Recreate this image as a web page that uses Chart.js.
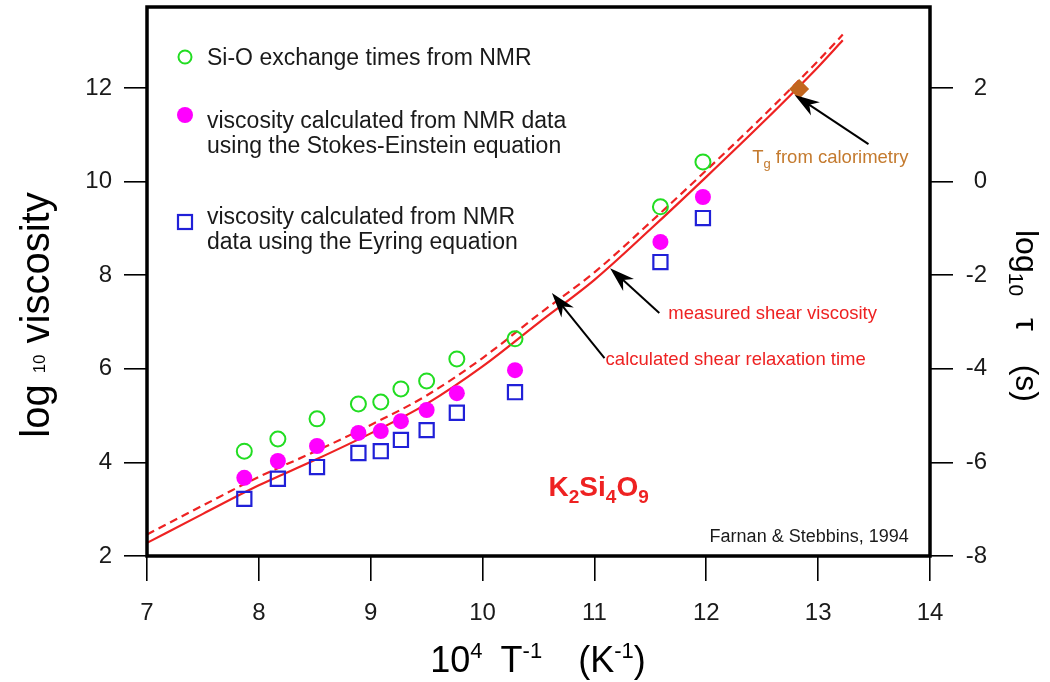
<!DOCTYPE html>
<html>
<head>
<meta charset="utf-8">
<script src="https://cdn.jsdelivr.net/npm/chart.js@4.4.1/dist/chart.umd.min.js"></script>
<style>
html, body { margin: 0; padding: 0; background: #fff; }
</style>
</head>
<body>
<canvas id="chart" width="1050" height="682"></canvas>
<script>
// NMR derived points (x = 10^4/T)
const invT = [7.87, 8.17, 8.52, 8.89, 9.09, 9.27, 9.50, 9.77, 10.29, 11.59, 11.97];
const exchangeTimes = [4.24, 4.50, 4.93, 5.25, 5.29, 5.57, 5.74, 6.21, 6.64, 9.46, 10.42];
const stokesEinstein = [3.67, 4.03, 4.35, 4.63, 4.67, 4.88, 5.12, 5.48, 5.97, 8.71, 9.67];
const eyring = [3.22, 3.65, 3.90, 4.20, 4.24, 4.48, 4.69, 5.06, 5.50, 8.28, 9.22];

// glass transition from calorimetry
const tgX = [12.83];
const tgY = [11.98];

// curves
const curveX = [7.0, 7.5, 8.0, 8.5, 9.0, 9.5, 10.0, 10.5, 11.0, 11.5, 12.0, 12.5, 13.0, 13.22];
const shearViscosity = [2.28, 2.90, 3.51, 4.05, 4.62, 5.25, 6.05, 6.98, 7.90, 8.98, 10.10, 11.25, 12.45, 13.02];
const relaxationTime = [2.46, 3.08, 3.69, 4.23, 4.80, 5.43, 6.23, 7.16, 8.06, 9.13, 10.24, 11.38, 12.58, 13.14];

const xTicks = [7, 8, 9, 10, 11, 12, 13, 14];
const leftTicks = [2, 4, 6, 8, 10, 12];
const rightTicks = [-8, -6, -4, -2, 0, 2];

const FAMILY = "'Liberation Sans', Arial, sans-serif";
const RED = '#ee2222';

function pts(xs, ys) {
    return xs.map((v, i) => ({ x: v, y: ys[i] }));
}

function fontOf(size, bold) {
    return (bold ? 'bold ' : '') + size + 'px ' + FAMILY;
}

// parts: [text, size, baselineShift, bold] or a number = gap in px
function richText(ctx, parts, x, y, align) {
    let total = 0;
    const widths = parts.map(p => {
        if (typeof p === 'number') return p;
        ctx.font = fontOf(p[1], p[3]);
        return ctx.measureText(p[0]).width;
    });
    widths.forEach(w => total += w);
    let cx = align === 'center' ? x - total / 2 : align === 'right' ? x - total : x;
    ctx.textAlign = 'left';
    ctx.textBaseline = 'alphabetic';
    parts.forEach((p, i) => {
        if (typeof p !== 'number') {
            ctx.font = fontOf(p[1], p[3]);
            ctx.fillText(p[0], cx, y + (p[2] || 0));
        }
        cx += widths[i];
    });
}

function arrow(ctx, x1, y1, x2, y2) {
    const ang = Math.atan2(y2 - y1, x2 - x1);
    const len = 25, half = 8;
    ctx.beginPath();
    ctx.moveTo(x1, y1);
    ctx.lineTo(x2 - Math.cos(ang) * len * 0.6, y2 - Math.sin(ang) * len * 0.6);
    ctx.stroke();
    ctx.save();
    ctx.translate(x2, y2);
    ctx.rotate(ang);
    ctx.beginPath();
    ctx.moveTo(0, 0);
    ctx.lineTo(-len, -half);
    ctx.lineTo(-len * 0.7, 0);
    ctx.lineTo(-len, half);
    ctx.closePath();
    ctx.fill();
    ctx.restore();
}

const overlay = {
    id: 'overlay',
    afterDraw(chart) {
        const { ctx, chartArea: a } = chart;
        const x = chart.scales.x, y = chart.scales.y, y2 = chart.scales.y2;
        const px = v => x.getPixelForValue(v);
        const py = v => y.getPixelForValue(v);
        ctx.save();

        // frame
        ctx.strokeStyle = '#000';
        ctx.lineWidth = 3.5;
        ctx.strokeRect(a.left, a.top, a.right - a.left, a.bottom - a.top);

        // right axis tick labels, right aligned
        ctx.fillStyle = '#1a1a1a';
        ctx.font = fontOf(24);
        ctx.textAlign = 'right';
        ctx.textBaseline = 'middle';
        rightTicks.forEach(v => ctx.fillText(String(v), a.right + 57, y2.getPixelForValue(v)));

        // legend block
        const mx = a.left + 38, tx = a.left + 60;
        ctx.lineWidth = 2;
        ctx.strokeStyle = '#22dd22';
        ctx.beginPath();
        ctx.arc(mx, a.top + 50, 6.5, 0, Math.PI * 2);
        ctx.stroke();
        ctx.fillStyle = '#ff00ff';
        ctx.beginPath();
        ctx.arc(mx, a.top + 108, 8, 0, Math.PI * 2);
        ctx.fill();
        ctx.strokeStyle = '#2020d8';
        ctx.lineWidth = 2.2;
        ctx.strokeRect(mx - 7, a.top + 208, 14, 14);

        ctx.fillStyle = '#1a1a1a';
        richText(ctx, [['Si-O exchange times from NMR', 23]], tx, a.top + 58, 'left');
        richText(ctx, [['viscosity calculated from NMR data', 23]], tx, a.top + 121, 'left');
        richText(ctx, [['using the Stokes-Einstein equation', 23]], tx, a.top + 146, 'left');
        richText(ctx, [['viscosity calculated from NMR', 23]], tx, a.top + 217, 'left');
        richText(ctx, [['data using the Eyring equation', 23]], tx, a.top + 242, 'left');

        // arrows
        ctx.strokeStyle = '#000';
        ctx.fillStyle = '#000';
        ctx.lineWidth = 2;
        arrow(ctx, px(13.45), py(10.80), px(12.79), py(11.85));
        arrow(ctx, px(11.58), py(7.19), px(11.14), py(8.15));
        arrow(ctx, px(11.09), py(6.23), px(10.62), py(7.62));

        // annotations
        ctx.fillStyle = '#c47a2e';
        richText(ctx, [['T', 18.5], ['g', 13, 5], [' from calorimetry', 18.5]], px(12.41), 163, 'left');
        ctx.fillStyle = RED;
        richText(ctx, [['measured shear viscosity', 18.5]], px(11.66), 319, 'left');
        richText(ctx, [['calculated shear relaxation time', 18.5]], px(11.10), 365, 'left');
        richText(ctx, [['K', 28, 0, true], ['2', 19, 7, true], ['Si', 28, 0, true], ['4', 19, 7, true],
                       ['O', 28, 0, true], ['9', 19, 7, true]], px(10.59), 496, 'left');
        ctx.fillStyle = '#1a1a1a';
        richText(ctx, [['Farnan & Stebbins, 1994', 18]], px(13.81), 542, 'right');

        // axis titles
        ctx.fillStyle = '#000';
        richText(ctx, [['10', 36], ['4', 22, -14], 18, ['T', 36], ['-1', 22, -14], 36,
                       ['(K', 36], ['-1', 22, -14], [')', 36]], 538, 672, 'center');

        ctx.save();
        ctx.translate(49, 315);
        ctx.rotate(-Math.PI / 2);
        richText(ctx, [['log', 40], 11, ['10', 17, -4], 11, ['viscosity', 40]], 0, 0, 'center');
        ctx.restore();

        ctx.save();
        ctx.translate(1016, 316);
        ctx.rotate(Math.PI / 2);
        richText(ctx, [['log', 32], ['10', 21, 7], 22, ['\u03c4', 32], 34, ['(s)', 32]], 0, 0, 'center');
        ctx.restore();

        ctx.restore();
    }
};

const tickFont = { family: FAMILY, size: 24 };
const gridStyle = (len) => ({ drawOnChartArea: false, drawTicks: true, tickLength: len, color: '#000', lineWidth: 1.6 });

function fixVertical(width) {
    return s => { s.width = width; s.paddingTop = 0; s.paddingBottom = 0; };
}

new Chart(document.getElementById('chart'), {
    type: 'scatter',
    data: {
        datasets: [
            {
                label: 'Tg from calorimetry',
                data: pts(tgX, tgY),
                pointStyle: 'rectRot',
                pointRadius: 10,
                pointBorderWidth: 0,
                backgroundColor: '#c2661e',
                borderColor: '#c2661e'
            },
            {
                label: 'Si-O exchange times from NMR',
                data: pts(invT, exchangeTimes),
                pointStyle: 'circle',
                pointRadius: 7.5,
                pointBorderWidth: 2,
                borderColor: '#22dd22',
                backgroundColor: 'rgba(0,0,0,0)'
            },
            {
                label: 'viscosity calculated from NMR data using the Stokes-Einstein equation',
                data: pts(invT, stokesEinstein),
                pointStyle: 'circle',
                pointRadius: 8,
                pointBorderWidth: 0,
                borderColor: '#ff00ff',
                backgroundColor: '#ff00ff'
            },
            {
                label: 'viscosity calculated from NMR data using the Eyring equation',
                data: pts(invT, eyring),
                pointStyle: 'rect',
                pointRadius: 10,
                pointBorderWidth: 2.2,
                borderColor: '#2020d8',
                backgroundColor: 'rgba(0,0,0,0)'
            },
            {
                label: 'measured shear viscosity',
                data: pts(curveX, shearViscosity),
                showLine: true,
                pointRadius: 0,
                borderColor: RED,
                borderWidth: 2.2,
                cubicInterpolationMode: 'monotone'
            },
            {
                label: 'calculated shear relaxation time',
                data: pts(curveX, relaxationTime),
                showLine: true,
                pointRadius: 0,
                borderColor: RED,
                borderWidth: 2.2,
                borderDash: [8, 5],
                cubicInterpolationMode: 'monotone'
            }
        ]
    },
    options: {
        responsive: false,
        devicePixelRatio: 1,
        animation: false,
        layout: { autoPadding: false, padding: { top: 7, left: 0, right: 0, bottom: 0 } },
        plugins: { legend: { display: false }, tooltip: { enabled: false } },
        scales: {
            x: {
                type: 'linear', position: 'bottom', min: 7, max: 14,
                afterFit: s => { s.height = 126; s.paddingLeft = 0; s.paddingRight = 0; },
                afterBuildTicks: s => { s.ticks = xTicks.map(v => ({ value: v })); },
                ticks: { font: tickFont, color: '#1a1a1a', padding: 18 },
                grid: gridStyle(25),
                border: { display: false }
            },
            y: {
                type: 'linear', position: 'left', min: 2, max: 13.73,
                afterFit: fixVertical(147),
                afterBuildTicks: s => { s.ticks = leftTicks.map(v => ({ value: v })); },
                ticks: { font: tickFont, color: '#1a1a1a', padding: 12 },
                grid: gridStyle(23),
                border: { display: false }
            },
            y2: {
                type: 'linear', position: 'right', min: -8, max: 3.73,
                afterFit: fixVertical(120),
                afterBuildTicks: s => { s.ticks = rightTicks.map(v => ({ value: v })); },
                ticks: { display: false },
                grid: gridStyle(23),
                border: { display: false }
            }
        }
    },
    plugins: [overlay]
});
</script>
</body>
</html>
